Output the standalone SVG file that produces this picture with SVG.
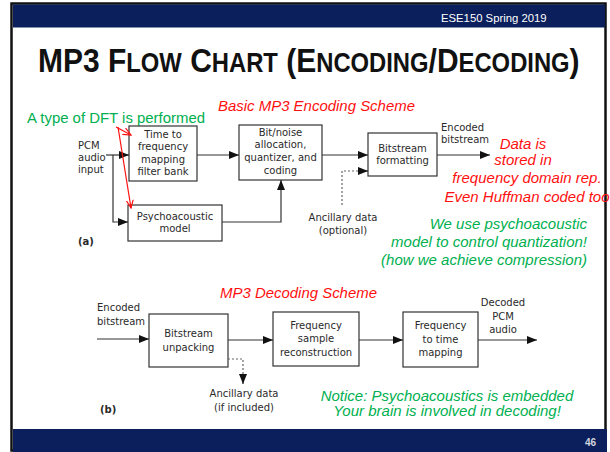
<svg xmlns="http://www.w3.org/2000/svg" width="610" height="452" viewBox="0 0 610 452">
<style>
.box{fill:#fff;stroke:#333;stroke-width:1.2}
.lbl{font-family:"DejaVu Sans","Open Sans",sans-serif;font-size:10px;fill:#2a2a2a;text-anchor:middle}
.lbll{font-family:"DejaVu Sans","Open Sans",sans-serif;font-size:10px;fill:#2a2a2a}
.con{fill:none;stroke:#333;stroke-width:1.2}
.dash{fill:none;stroke:#666;stroke-width:1.2;stroke-dasharray:2 2}
.red{font-family:"Liberation Sans",Arial,sans-serif;font-style:italic;font-size:15px;fill:#ff1010}
.grn{font-family:"Liberation Sans",Arial,sans-serif;font-style:italic;font-size:15px;fill:#00b050}
.ra{fill:none;stroke:#ff1010;stroke-width:1.2}
</style>
<defs>
<marker id="ah" markerUnits="userSpaceOnUse" markerWidth="10" markerHeight="8" refX="10" refY="4" orient="auto"><path d="M0,0 L10,4 L0,8 z" fill="#111"/></marker>
<marker id="rh" markerUnits="userSpaceOnUse" markerWidth="9" markerHeight="8" refX="8" refY="4" orient="auto"><path d="M0,0.5 L8,4 L0,7.5" fill="none" stroke="#ff1010" stroke-width="1.2"/></marker>
</defs>

<!-- slide frame -->
<rect x="0" y="0" width="610" height="452" fill="#fff"/>
<rect x="11.5" y="3.5" width="594" height="447" fill="#fff" stroke="#111" stroke-width="2.5"/>
<rect x="13" y="4.5" width="592" height="23" fill="#0b1f5c"/>
<rect x="13" y="429" width="594" height="23" fill="#0b1f5c"/>
<text x="441" y="22" font-family="Liberation Sans,Arial,sans-serif" font-size="11.3" fill="#fff">ESE150 Spring 2019</text>
<text x="596" y="446" font-family="Liberation Sans,Arial,sans-serif" font-size="10" font-weight="bold" fill="#d0d4dc" text-anchor="end">46</text>

<!-- title -->
<text id="title" transform="translate(38,72) scale(0.882,1)" x="0" y="0" font-family="Liberation Sans,Arial,sans-serif" font-weight="bold" font-size="34" fill="#111">MP3 F<tspan font-size="27">LOW</tspan> C<tspan font-size="27">HART</tspan> (E<tspan font-size="27">NCODING</tspan>/D<tspan font-size="27">ECODING</tspan>)</text>

<!-- annotations -->
<text x="27" y="123" font-family="Liberation Sans,Arial,sans-serif" font-size="14.5" fill="#00b050" textLength="178" lengthAdjust="spacingAndGlyphs">A type of DFT is performed</text>
<text class="red" x="218" y="111" textLength="197" lengthAdjust="spacingAndGlyphs">Basic MP3 Encoding Scheme</text>
<g class="red" text-anchor="middle">
<text x="523" y="149">Data is</text>
<text x="523" y="165">stored in</text>
<text x="527" y="182.5">frequency domain rep.</text>
<text x="527" y="202">Even Huffman coded too</text>
</g>
<g class="grn" text-anchor="end">
<text x="587" y="229">We use psychoacoustic</text>
<text x="587" y="247">model to control quantization!</text>
<text x="587" y="264.5">(how we achieve compression)</text>
</g>
<text class="red" x="220" y="298" textLength="157" lengthAdjust="spacingAndGlyphs">MP3 Decoding Scheme</text>
<g class="grn" text-anchor="middle">
<text x="447" y="400.5">Notice: Psychoacoustics is embedded</text>
<text x="447" y="416">Your brain is involved in decoding!</text>
</g>

<!-- encoding nodes -->
<g id="enc-t2f"><rect class="box" x="129" y="126" width="68" height="55"/>
<text class="lbl" x="163" y="138">Time to</text><text class="lbl" x="163" y="150.3">frequency</text><text class="lbl" x="163" y="162.6">mapping</text><text class="lbl" x="163" y="174.9">filter bank</text></g>
<g id="enc-bitnoise"><rect class="box" x="239" y="125" width="83" height="55"/>
<text class="lbl" x="280.5" y="135.5">Bit/noise</text><text class="lbl" x="280.5" y="148.2">allocation,</text><text class="lbl" x="280.5" y="160.9">quantizer, and</text><text class="lbl" x="280.5" y="173.6">coding</text></g>
<g id="enc-format"><rect class="box" x="368" y="133" width="69" height="43"/>
<text class="lbl" x="402.5" y="152">Bitstream</text><text class="lbl" x="402.5" y="164.2">formatting</text></g>
<g id="enc-psy"><rect class="box" x="128" y="205" width="94" height="36"/>
<text class="lbl" x="175" y="219.5">Psychoacoustic</text><text class="lbl" x="175" y="232">model</text></g>
<g id="enc-labels">
<text class="lbll" x="78" y="148.5">PCM</text><text class="lbll" x="78" y="160.5">audio</text><text class="lbll" x="78" y="172.5">input</text>
<text class="lbll" x="441" y="131">Encoded</text><text class="lbll" x="441" y="143">bitstream</text>
<text class="lbl" x="343" y="221">Ancillary data</text><text class="lbl" x="343" y="233.5">(optional)</text>
<text class="lbll" x="78" y="245" font-weight="bold">(a)</text>
</g>

<!-- decoding nodes -->
<g id="dec-unpack"><rect class="box" x="149" y="314" width="79" height="53"/>
<text class="lbl" x="188.5" y="337">Bitstream</text><text class="lbl" x="188.5" y="350.5">unpacking</text></g>
<g id="dec-recon"><rect class="box" x="273" y="312" width="86" height="54"/>
<text class="lbl" x="316" y="329">Frequency</text><text class="lbl" x="316" y="342">sample</text><text class="lbl" x="316" y="355.5">reconstruction</text></g>
<g id="dec-f2t"><rect class="box" x="403" y="312" width="75" height="55"/>
<text class="lbl" x="440.5" y="329">Frequency</text><text class="lbl" x="440.5" y="342.5">to time</text><text class="lbl" x="440.5" y="355.5">mapping</text></g>
<g id="dec-labels">
<text class="lbll" x="97" y="310.5">Encoded</text><text class="lbll" x="97" y="324.5">bitstream</text>
<text class="lbl" x="503" y="306">Decoded</text><text class="lbl" x="503" y="319.5">PCM</text><text class="lbl" x="503" y="333">audio</text>
<text class="lbl" x="244" y="397">Ancillary data</text><text class="lbl" x="244" y="410.5">(if included)</text>
<text class="lbll" x="100" y="413" font-weight="bold">(b)</text>
</g>

<!-- connectors -->
<g id="connectors">
<path class="con" d="M106,155 H129" marker-end="url(#ah)"/>
<path class="con" d="M113,155 V222 H128" marker-end="url(#ah)"/>
<path class="con" d="M197,155 H239" marker-end="url(#ah)"/>
<path class="con" d="M222,222 H281 V180" marker-end="url(#ah)"/>
<path class="con" d="M322,155 H368" marker-end="url(#ah)"/>
<path class="dash" d="M342,205 V171 H358"/>
<path class="con" d="M358,171 H368" marker-end="url(#ah)"/>
<path class="con" d="M437,155 H490" marker-end="url(#ah)"/>
<path class="con" d="M97,339 H149" marker-end="url(#ah)"/>
<path class="con" d="M228,340 H273" marker-end="url(#ah)"/>
<path class="con" d="M359,340 H403" marker-end="url(#ah)"/>
<path class="con" d="M478,340 H537" marker-end="url(#ah)"/>
<path class="dash" d="M228,359 H243 V374"/>
<path class="con" d="M243,374 V384" marker-end="url(#ah)"/>
<path class="ra" d="M116,127 L131,135" marker-end="url(#rh)"/>
<path class="ra" d="M118,127 L131,208" marker-end="url(#rh)"/>
</g>
</svg>
